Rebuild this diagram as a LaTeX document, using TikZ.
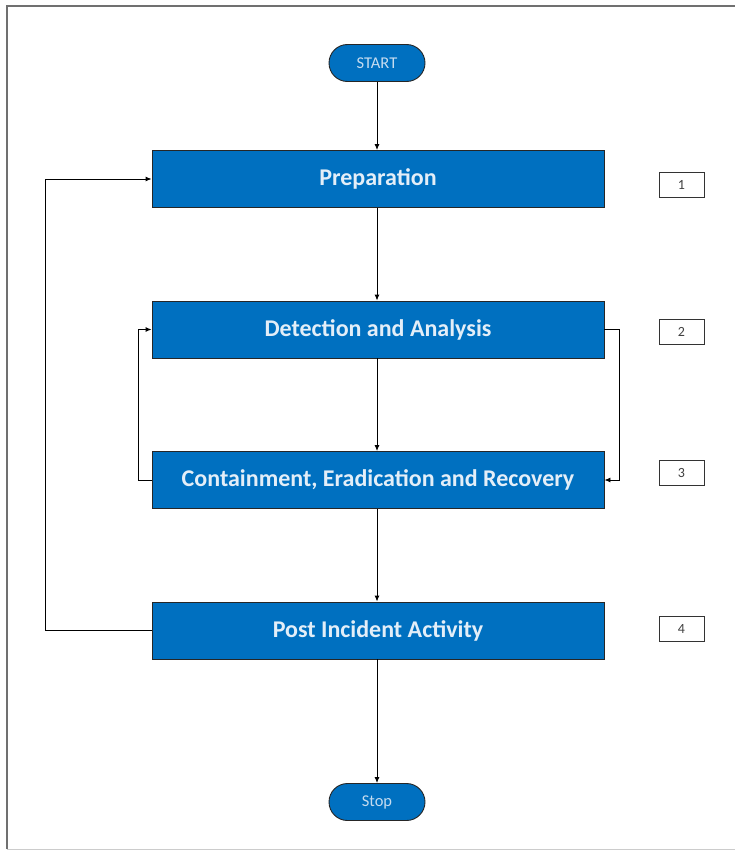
\documentclass[tikz,border=0pt]{standalone}
\usepackage{fontspec}
\setmainfont{Carlito}
\usetikzlibrary{arrows.meta,shapes.misc}
\definecolor{boxblue}{HTML}{0070C0}
\definecolor{txtblue}{HTML}{E3EEF8}
\definecolor{termtxt}{HTML}{C5DCF0}
\definecolor{frame}{HTML}{707070}
\begin{document}
\begin{tikzpicture}[x=1pt,y=-1pt,
  stepbox/.style={draw=black!85,line width=0.9pt,fill=boxblue,minimum width=452pt,minimum height=57pt,inner sep=0pt,text=txtblue,font=\fontsize{24}{28}\selectfont\bfseries},
  term/.style={draw=black!85,line width=0.9pt,fill=boxblue,rounded rectangle,minimum width=96pt,minimum height=37pt,inner sep=0pt,text=termtxt,font=\fontsize{16.5}{19}\selectfont},
  numbox/.style={draw=black!80,line width=0.9pt,fill=white,minimum width=45pt,minimum height=25pt,inner sep=0pt,text=black!75,font=\fontsize{14}{16}\selectfont},
  conn/.style={draw=black,line width=0.9pt,-{Latex[length=6pt,width=5pt]}},
  plain/.style={draw=black,line width=0.9pt}]
\useasboundingbox (0,0) rectangle (735,851);
% frame
\draw[frame,line width=1.6pt] (7,849) -- (7,6) -- (735,6);
\draw[black!20,line width=1pt] (7,849.5) -- (735,849.5);
% nodes
\node[term] (start) at (377,63) {START};
\node[stepbox] (prep) at (378,179) {Preparation};
\node[stepbox] (det) at (378,329.5) {Detection and Analysis};
\node[stepbox] (cont) at (378,480) {Containment, Eradication and Recovery};
\node[stepbox] (post) at (378,630.5) {Post Incident Activity};
\node[term] (stop) at (377,802) {Stop};
\node[numbox] (n1) at (681.5,184.5) {1};
\node[numbox] (n2) at (681.5,331.5) {2};
\node[numbox] (n3) at (681.5,473) {3};
\node[numbox] (n4) at (681.5,629) {4};
% coordinates
\coordinate (lpost) at (45,630.5);
\coordinate (lprep) at (45,179);
\coordinate (lcont) at (138,480);
\coordinate (ldet) at (138,329.5);
\coordinate (rdet) at (619,329.5);
\coordinate (rcont) at (619,480);
% connectors
\draw[conn] (start.south) -- (start.south |- prep.north);
\draw[conn] (prep.south -| start) -- (det.north -| start);
\draw[conn] (det.south -| start) -- (cont.north -| start);
\draw[conn] (cont.south -| start) -- (post.north -| start);
\draw[conn] (post.south -| start) -- (stop.north);
\draw[conn] (post.west) -- (lpost) -- (lprep) -- (prep.west);
\draw[conn] (cont.west) -- (lcont) -- (ldet) -- (det.west);
\draw[conn] (det.east) -- (rdet) -- (rcont) -- (cont.east);
\end{tikzpicture}
\end{document}
